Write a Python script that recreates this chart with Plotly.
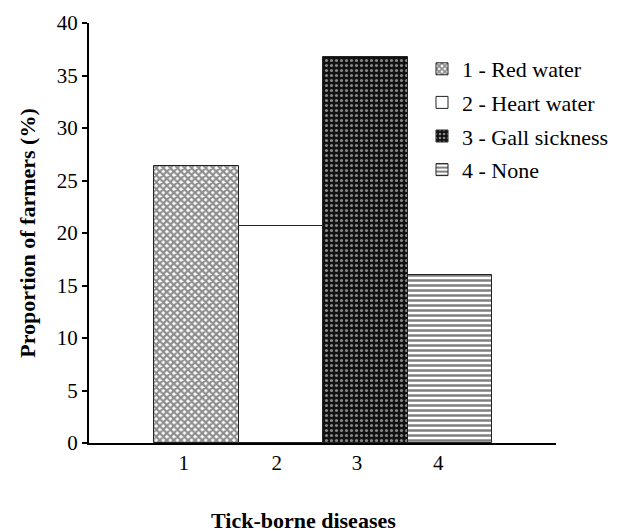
import plotly.graph_objects as go

categories = ["1", "2", "3", "4"]
legend_names = ["1 - Red water", "2 - Heart water", "3 - Gall sickness", "4 - None"]
values = [26.4, 20.7, 36.8, 16.0]
y_ticks = [0, 5, 10, 15, 20, 25, 30, 35, 40]

positions = [1, 2, 3, 4]
# tick labels in the source sit slightly left of the bar centres
label_offsets = [-0.15, -0.05, -0.10, -0.14]
label_positions = [p + o for p, o in zip(positions, label_offsets)]

patterns = [
    dict(shape="x", fgcolor="#1e1e1e", bgcolor="white", size=5, solidity=0.7),
    dict(shape="", fgcolor="black", bgcolor="white"),
    dict(shape=".", fgcolor="white", bgcolor="#111111", size=5, solidity=0.3),
    dict(shape="-", fgcolor="black", bgcolor="white", size=5, solidity=0.5),
]

font_family = "Liberation Serif, DejaVu Serif, serif"

# page has an 8px body margin; plot area target (page px): x 89-556, y 23-443
W, H = 620, 524
L, T = 81, 15
R, B = W - 548, H - 435
PW, PH = 548 - L, 435 - T

fig = go.Figure()
for i in range(4):
    fig.add_trace(go.Bar(
        x=[positions[i]], y=[values[i]], name=legend_names[i], width=1,
        marker=dict(color="white", pattern=patterns[i], line=dict(color="#222222", width=1)),
        legendgroup=str(i),
    ))

fig.update_layout(
    width=W, height=H,
    margin=dict(l=L, r=R, t=T, b=B, autoexpand=False),
    plot_bgcolor="white", paper_bgcolor="white",
    font=dict(family=font_family, size=21, color="black"),
    showlegend=True,
    legend=dict(x=(414 - L) / PW, xref="paper", y=(435 - 40) / PH, yanchor="top",
                font=dict(family=font_family, size=22),
                tracegroupgap=2, bgcolor="rgba(0,0,0,0)", itemwidth=30),
    xaxis=dict(range=[-0.272, 5.254], tickvals=label_positions, ticktext=categories,
               showline=True, linecolor="black", linewidth=2, ticks="", showgrid=False,
               zeroline=False, automargin=False, tickfont=dict(family=font_family, size=21)),
    yaxis=dict(range=[0, 40], tickvals=y_ticks, showline=True, linecolor="black", linewidth=2,
               ticks="outside", ticklen=5, tickwidth=2, tickcolor="black", showgrid=False,
               zeroline=False, automargin=False, tickfont=dict(family=font_family, size=21),
               title=dict(text="<b>Proportion of farmers (%)</b>",
                          font=dict(family=font_family, size=22), standoff=15)),
    bargap=0,
)

fig.add_annotation(text="<b>Tick-borne diseases</b>", xref="paper", yref="paper",
                   x=(295 - L) / PW, y=-(512 - 435) / PH, xanchor="center", yanchor="middle",
                   showarrow=False, font=dict(family=font_family, size=22))

fig.write_html("out.html")
